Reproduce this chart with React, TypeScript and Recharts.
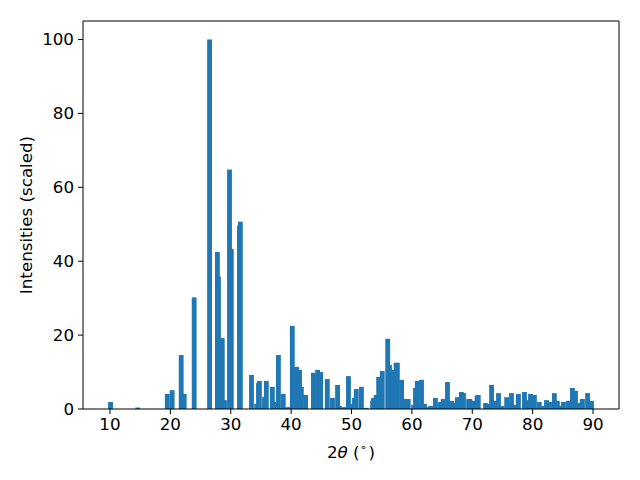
import React from 'react';
import { BarChart, Bar, XAxis, YAxis, Label, ReferenceLine } from 'recharts';

// 2θ peak positions (degrees) and scaled intensities
const twoTheta = [
  10.1, 14.6, 19.5, 20.3, 21.8, 22.3, 23.95, 26.5, 27.8, 27.97,
  28.6, 28.97, 29.8, 30.1, 31.45, 31.6, 33.44, 34.3, 34.6, 34.75,
  35.6, 35.9, 36.9, 37.25, 37.9, 38.7, 39.4, 40.2, 40.9, 41.4,
  41.7, 42.4, 43.7, 44.4, 44.9, 46.0, 46.85, 47.7, 48.0, 48.7,
  49.5, 50.2, 50.5, 50.8, 51.65, 52.4, 53.5, 53.65, 54.1, 54.5,
  55.1, 56.0, 56.3, 56.8, 57.4, 57.6, 58.3, 59.1, 59.4, 60.3,
  60.6, 60.9, 61.6, 62.1, 62.6, 63.1, 63.9, 64.7, 65.2, 65.9,
  66.6, 66.9, 67.55, 68.2, 68.55, 69.4, 69.6, 70.2, 70.8, 71.0,
  72.2, 72.6, 73.2, 73.7, 74.35, 74.9, 75.7, 76.5, 77.0, 77.65,
  78.65, 79.1, 79.65, 80.3, 81.1, 81.6, 82.3, 82.8, 83.6, 84.1,
  84.6, 85.1, 85.9, 86.6, 87.1, 87.6, 88.25, 89.1, 89.75,
];
const intensities = [
  1.9, 0.4, 4.1, 5.1, 14.6, 4.1, 30.2, 100, 42.5, 35.8,
  19.2, 2.4, 64.8, 43.3, 49.6, 50.7, 9.2, 1.4, 7.0, 7.6,
  3.2, 7.6, 6.0, 1.9, 14.6, 4.1, 0.5, 22.5, 11.4, 10.6,
  6.0, 3.8, 9.8, 10.6, 10.0, 8.1, 3.0, 6.5, 0.8, 0.5,
  8.9, 1.4, 3.0, 5.4, 6.0, 0.3, 2.2, 3.0, 3.8, 8.7,
  10.3, 19.0, 11.9, 10.6, 12.5, 12.5, 7.9, 2.7, 2.7, 1.1,
  5.7, 7.6, 7.9, 1.4, 0.5, 0.8, 3.0, 1.9, 2.7, 7.3,
  2.2, 1.6, 3.2, 4.6, 4.3, 2.7, 2.7, 2.2, 3.6, 3.8,
  1.6, 1.4, 6.5, 2.2, 4.3, 0.8, 3.2, 4.3, 1.1, 4.1,
  4.6, 2.4, 4.1, 3.8, 1.9, 0.8, 2.4, 1.9, 4.3, 2.2,
  0.8, 1.9, 2.2, 5.7, 4.9, 1.6, 2.7, 4.3, 2.2,
];

const xTicks = [10, 20, 30, 40, 50, 60, 70, 80, 90];
const yTicks = [0, 20, 40, 60, 80, 100];

const X_MIN = 5.53;
const X_MAX = 94.3;
const Y_MAX = 105;

const data = twoTheta.map((t, i) => ({ theta: t, value: intensities[i] }));

// plot area is 536px wide; matplotlib default bar width = 0.8 data units
const BAR_PX = (0.8 * 536) / (X_MAX - X_MIN);
const BLUE = '#1f77b4';
const FONT = 'DejaVu Sans, sans-serif';
const FS = 16.7;

const XrdBar = (props: any) => {
  const { x, y, width, height } = props;
  if (height == null || height <= 0) return null;
  const cx = x + width / 2;
  return <rect x={cx - BAR_PX / 2} y={y} width={BAR_PX} height={height} fill={BLUE} />;
};

const tickStyle = { fill: '#000', fontSize: FS, fontFamily: FONT };

export default function App() {
  return (
    <div style={{ position: 'absolute', left: 0, top: 0, background: '#fff' }}>
      <BarChart
        width={640}
        height={480}
        data={data}
        margin={{ top: 21, right: 21, bottom: 0, left: 0 }}
      >
        <XAxis
          dataKey="theta"
          type="number"
          domain={[X_MIN, X_MAX]}
          ticks={xTicks}
          allowDataOverflow
          height={71}
          tick={tickStyle}
          tickSize={5}
          tickMargin={4}
          axisLine={{ stroke: '#000' }}
          tickLine={{ stroke: '#000' }}
        >
          <Label
            content={() => (
              <text x={351} y={458} textAnchor="middle" fontSize={FS} fontFamily={FONT} fill="#000">
                <tspan>2</tspan>
                <tspan fontStyle="italic">θ</tspan>
                <tspan> (</tspan>
                <tspan fontSize={11} dy={-7}>∘</tspan>
                <tspan dx={2} dy={7}>)</tspan>
              </text>
            )}
          />
        </XAxis>
        <YAxis
          type="number"
          domain={[0, Y_MAX]}
          ticks={yTicks}
          allowDataOverflow
          width={83}
          tick={tickStyle}
          tickSize={5}
          tickMargin={4}
          axisLine={{ stroke: '#000' }}
          tickLine={{ stroke: '#000' }}
        >
          <Label
            content={() => (
              <text
                x={26}
                y={215}
                transform="rotate(-90 26 215)"
                textAnchor="middle"
                dominantBaseline="central"
                fontSize={FS}
                fontFamily={FONT}
                fill="#000"
              >
                Intensities (scaled)
              </text>
            )}
          />
        </YAxis>
        <Bar dataKey="value" barSize={5} shape={<XrdBar />} isAnimationActive={false} />
        {/* top and right spines */}
        <ReferenceLine y={Y_MAX} stroke="#000" strokeWidth={1} ifOverflow="visible" />
        <ReferenceLine x={X_MAX} stroke="#000" strokeWidth={1} ifOverflow="visible" />
      </BarChart>
    </div>
  );
}
